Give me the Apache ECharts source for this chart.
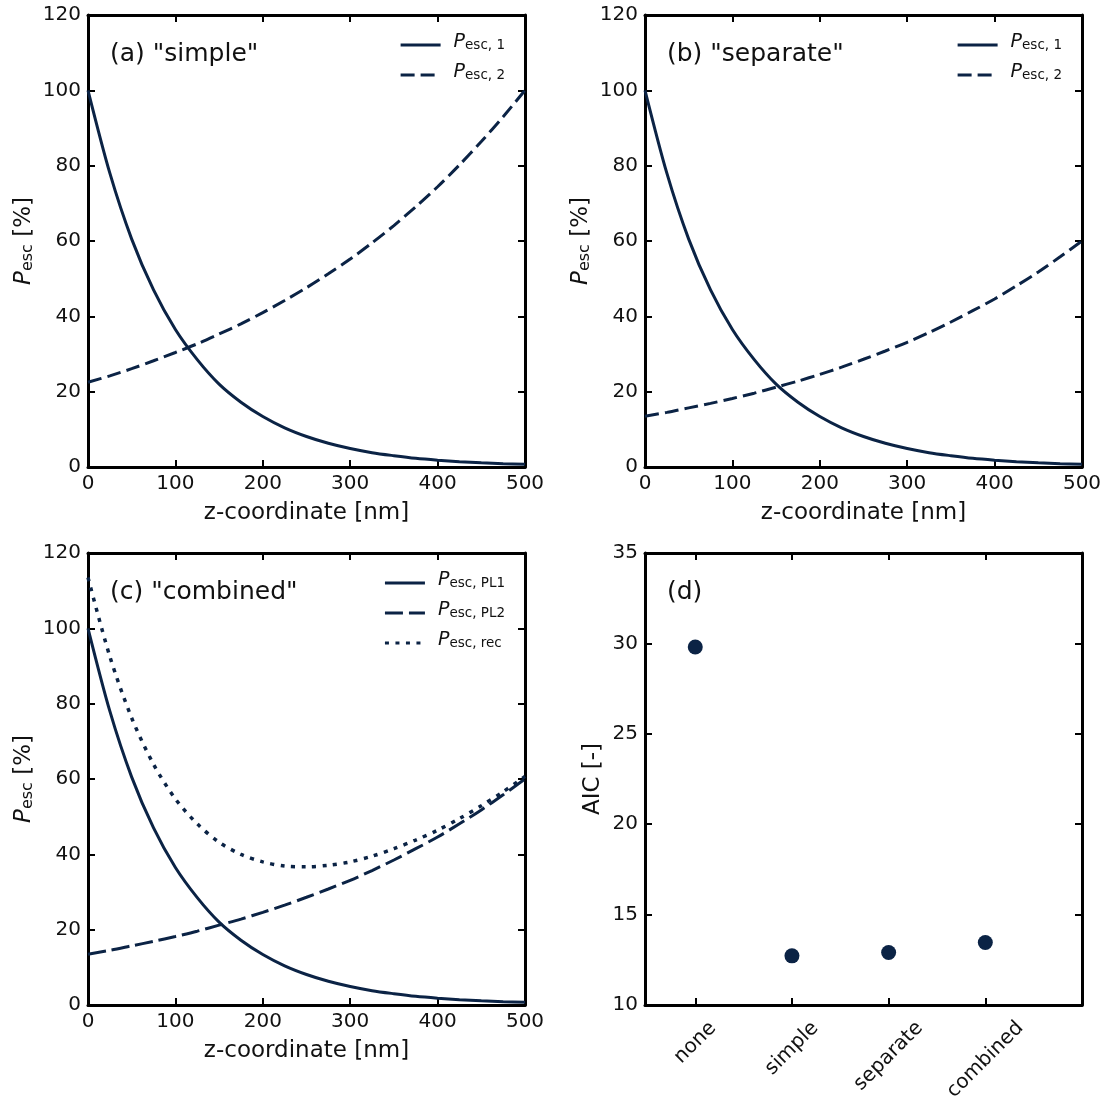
<!DOCTYPE html>
<html>
<head>
<meta charset="utf-8">
<script src="https://cdn.jsdelivr.net/npm/echarts@6/dist/echarts.min.js"></script>
<style>
  html, body { margin: 0; background: #fff; }
  #chart { width: 1107px; height: 1097px; }
</style>
</head>
<body>
<div id="chart"></div>
<script>
// z positions [nm]
const zCoord = [0, 25, 50, 75, 100, 125, 150, 175, 200, 225, 250, 275, 300, 325, 350, 375, 400, 425, 450, 475, 500]

// (a) "simple"
const simpleEsc1 = [100, 78, 60.5, 47, 36.5, 28.5, 22, 17.2, 13.4, 10.4, 8.1, 6.3, 4.9, 3.8, 3, 2.3, 1.8, 1.4, 1.1, 0.85, 0.7]
const simpleEsc2 = [22.5, 24.2, 26.1, 28.2, 30.4, 32.7, 35.3, 38, 41, 44.2, 47.6, 51.3, 55.2, 59.5, 64.1, 69.1, 74.4, 80.2, 86.4, 93, 100]

// (b) "separate"
const separateEsc1 = [100, 78, 60.5, 47, 36.5, 28.5, 22, 17.2, 13.4, 10.4, 8.1, 6.3, 4.9, 3.8, 3, 2.3, 1.8, 1.4, 1.1, 0.85, 0.7]
const separateEsc2 = [13.5, 14.5, 15.7, 16.9, 18.2, 19.6, 21.2, 22.8, 24.6, 26.5, 28.6, 30.8, 33.1, 35.7, 38.5, 41.5, 44.6, 48.1, 51.8, 55.8, 60]

// (c) "combined"
const combinedPL1 = [100, 78, 60.5, 47, 36.5, 28.5, 22, 17.2, 13.4, 10.4, 8.1, 6.3, 4.9, 3.8, 3, 2.3, 1.8, 1.4, 1.1, 0.85, 0.7]
const combinedPL2 = [13.5, 14.5, 15.7, 16.9, 18.2, 19.6, 21.2, 22.8, 24.6, 26.5, 28.6, 30.8, 33.1, 35.7, 38.5, 41.5, 44.6, 48.1, 51.8, 55.8, 60]
const combinedRec = [113.5, 92.5, 76.2, 63.9, 54.7, 48.1, 43.2, 40, 38, 36.9, 36.7, 37.1, 38, 39.5, 41.5, 43.8, 46.4, 49.5, 52.9, 56.6, 60.7]

// (d) AIC
const aicModels = ['none', 'simple', 'separate', 'combined']
const aicValues = [29.8, 12.72, 12.9, 13.46]

const navy = '#0b2345'
const font = 'DejaVu Sans'

const chart = echarts.init(document.getElementById('chart'))

const pairs = ys => zCoord.map((z, i) => [z, ys[i]])

// panel boxes
const boxes = [
  { left: 88, top: 15 },
  { left: 645, top: 15 },
  { left: 88, top: 553 },
  { left: 645, top: 553 }
]
const boxW = 437
const boxH = 452

const tick = { show: true, inside: true, length: 7, lineStyle: { color: '#000', width: 2 } }
const line = { show: true, onZero: false, lineStyle: { color: '#000', width: 3 } }
const label = { color: '#111', fontSize: 20, fontFamily: font, margin: 7 }

const legendRich = {
  p: { fontStyle: 'italic', fontSize: 19, fontFamily: font, color: '#111', padding: [0, 0, 5, 8] },
  s: { fontSize: 13.5, fontFamily: font, color: '#111' }
}

const subNames = {
  a1: 'esc, 1', a2: 'esc, 2', b1: 'esc, 1', b2: 'esc, 2',
  c1: 'esc, PL1', c2: 'esc, PL2', c3: 'esc, rec'
}

// rotated category labels: pad each one so its box is centred under the tick
const catPad = [35, 43, 54, 59]
const catRich = {}
aicModels.forEach((m, i) => {
  catRich['c' + i] = { fontSize: 20, fontFamily: font, color: '#111', padding: [catPad[i], catPad[i], 0, 0] }
})

function zAxes(g) {
  return [
    {
      type: 'value', gridIndex: g, position: 'bottom', min: 0, max: 500, interval: 100,
      axisLine: line, axisTick: tick, splitLine: { show: false },
      axisLabel: label,
      name: 'z-coordinate [nm]', nameLocation: 'middle', nameGap: 35,
      nameTextStyle: { fontSize: 23, fontFamily: font, color: '#111' }
    },
    {
      type: 'value', gridIndex: g, position: 'top', min: 0, max: 500, interval: 100,
      axisLine: line, axisTick: tick, splitLine: { show: false }, axisLabel: { show: false }
    }
  ]
}

function pAxes(g) {
  return [
    {
      type: 'value', gridIndex: g, position: 'left', min: 0, max: 120, interval: 20,
      axisLine: line, axisTick: tick, splitLine: { show: false },
      axisLabel: label,
      name: '{p|P}{s|esc}{t| [%]}', nameLocation: 'middle', nameGap: 46, nameRotate: 90,
      nameTextStyle: {
        rich: {
          p: { fontStyle: 'italic', fontSize: 23, fontFamily: font, color: '#111', padding: [0, 0, 6, 0] },
          s: { fontSize: 16, fontFamily: font, color: '#111' },
          t: { fontSize: 23, fontFamily: font, color: '#111', padding: [0, 0, 6, 0] }
        }
      }
    },
    {
      type: 'value', gridIndex: g, position: 'right', min: 0, max: 120, interval: 20,
      axisLine: line, axisTick: tick, splitLine: { show: false }, axisLabel: { show: false }
    }
  ]
}

function curve(name, g, ys, dash, width) {
  return {
    name: name, type: 'line', xAxisIndex: g * 2, yAxisIndex: g * 2,
    data: pairs(ys), showSymbol: false, symbol: 'none', smooth: 0.3,
    lineStyle: { color: navy, width: width || 3, type: dash, cap: 'butt' },
    itemStyle: { color: navy },
    z: 3
  }
}

function legendAt(g, names) {
  return {
    data: names, orient: 'vertical',
    right: 1107 - (boxes[g].left + boxW) + 15, top: boxes[g].top + 13,
    itemWidth: 40, itemHeight: 14, itemGap: 11,
    selectedMode: false,
    itemStyle: { color: 'rgba(0,0,0,0)', borderWidth: 0 },
    lineStyle: { width: 3 },
    formatter: n => '{p|P}{s|' + subNames[n] + '}',
    textStyle: { rich: legendRich }
  }
}

const panelTitles = ['(a) "simple"', '(b) "separate"', '(c) "combined"', '(d)']

chart.setOption({
  animation: false,
  backgroundColor: '#fff',
  title: panelTitles.map((t, i) => ({
    text: t, left: boxes[i].left + 17, top: boxes[i].top + 22,
    textStyle: { fontSize: 25, fontWeight: 'normal', fontFamily: font, color: '#111' }
  })),
  grid: boxes.map(b => ({
    left: b.left, top: b.top, width: boxW, height: boxH,
    containLabel: false, outerBoundsMode: 'none'
  })),
  legend: [
    legendAt(0, ['a1', 'a2']),
    legendAt(1, ['b1', 'b2']),
    legendAt(2, ['c1', 'c2', 'c3'])
  ],
  xAxis: [
    ...zAxes(0), ...zAxes(1), ...zAxes(2),
    {
      type: 'value', gridIndex: 3, position: 'bottom', min: -0.52, max: 4,
      axisLine: line, splitLine: { show: false },
      axisTick: Object.assign({ customValues: [0, 1, 2, 3] }, tick),
      axisLabel: Object.assign({}, label, {
        customValues: [0, 1, 2, 3], rotate: 45, margin: 13,
        align: 'center', verticalAlign: 'middle',
        formatter: v => { const i = Math.round(v); return '{c' + i + '|' + aicModels[i] + '}' },
        rich: catRich
      })
    },
    {
      type: 'value', gridIndex: 3, position: 'top', min: -0.52, max: 4,
      axisLine: line, splitLine: { show: false },
      axisTick: Object.assign({ customValues: [0, 1, 2, 3] }, tick),
      axisLabel: { show: false }
    }
  ],
  yAxis: [
    ...pAxes(0), ...pAxes(1), ...pAxes(2),
    {
      type: 'value', gridIndex: 3, position: 'left', min: 10, max: 35, interval: 5,
      axisLine: line, axisTick: tick, splitLine: { show: false },
      axisLabel: label,
      name: 'AIC [-]', nameLocation: 'middle', nameGap: 40, nameRotate: 90,
      nameTextStyle: { fontSize: 23, fontFamily: font, color: '#111' }
    },
    {
      type: 'value', gridIndex: 3, position: 'right', min: 10, max: 35, interval: 5,
      axisLine: line, axisTick: tick, splitLine: { show: false }, axisLabel: { show: false }
    }
  ],
  series: [
    curve('a1', 0, simpleEsc1, 'solid'),
    curve('a2', 0, simpleEsc2, [14, 6]),
    curve('b1', 1, separateEsc1, 'solid'),
    curve('b2', 1, separateEsc2, [14, 6]),
    curve('c1', 2, combinedPL1, 'solid'),
    curve('c2', 2, combinedPL2, [18, 6]),
    curve('c3', 2, combinedRec, [4, 6.5], 3.5),
    {
      name: 'AIC', type: 'scatter', xAxisIndex: 6, yAxisIndex: 6,
      data: aicValues.map((v, i) => [i, v]),
      symbol: 'circle', symbolSize: 15,
      itemStyle: { color: navy, opacity: 1 }
    }
  ]
})
</script>
</body>
</html>
